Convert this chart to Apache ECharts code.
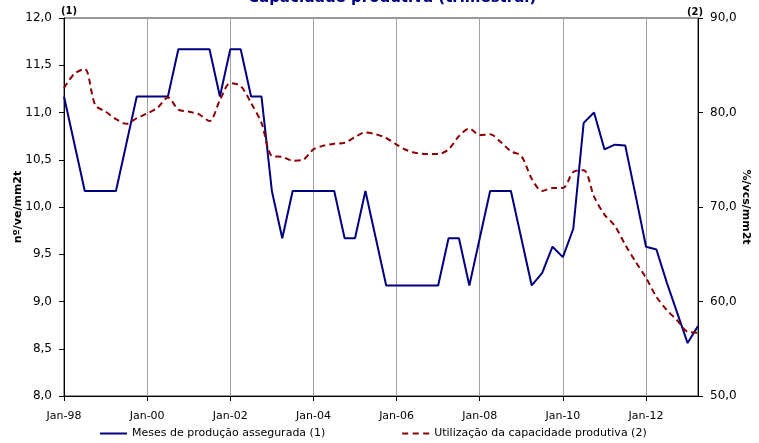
<!DOCTYPE html>
<html>
<head>
<meta charset="utf-8">
<script src="https://cdn.jsdelivr.net/npm/echarts@6/dist/echarts.min.js"></script>
<style>html,body{margin:0;padding:0;background:#fff;}#c{width:759px;height:443px;}</style>
</head>
<body>
<div id="c"></div>
<script>
var categories = [
 'Jan-98','Apr-98','Jul-98','Oct-98','Jan-99','Apr-99','Jul-99','Oct-99',
 'Jan-00','Apr-00','Jul-00','Oct-00','Jan-01','Apr-01','Jul-01','Oct-01',
 'Jan-02','Apr-02','Jul-02','Oct-02','Jan-03','Apr-03','Jul-03','Oct-03',
 'Jan-04','Apr-04','Jul-04','Oct-04','Jan-05','Apr-05','Jul-05','Oct-05',
 'Jan-06','Apr-06','Jul-06','Oct-06','Jan-07','Apr-07','Jul-07','Oct-07',
 'Jan-08','Apr-08','Jul-08','Oct-08','Jan-09','Apr-09','Jul-09','Oct-09',
 'Jan-10','Apr-10','Jul-10','Oct-10','Jan-11','Apr-11','Jul-11','Oct-11',
 'Jan-12','Apr-12','Jul-12','Oct-12','Jan-13','Apr-13'
];
var mesesProducao = [
 11.17,10.67,10.17,10.17,10.17,10.17,10.67,11.17,
 11.17,11.17,11.17,11.67,11.67,11.67,11.67,11.17,
 11.67,11.67,11.17,11.17,10.17,9.67,10.17,10.17,
 10.17,10.17,10.17,9.67,9.67,10.17,9.67,9.17,
 9.17,9.17,9.17,9.17,9.17,9.67,9.67,9.17,
 9.67,10.17,10.17,10.17,9.67,9.17,9.30,9.58,
 9.47,9.77,10.89,11.00,10.61,10.66,10.65,10.12,
 9.58,9.55,9.20,8.88,8.56,8.74
];
var utilizacaoCapacidade = [
 82.6,84.1,84.6,80.8,80.1,79.3,78.8,79.4,
 79.9,80.5,81.6,80.3,80.1,79.8,79.1,81.3,
 83.1,82.8,81.0,78.9,75.4,75.3,74.9,75.0,
 76.1,76.5,76.7,76.8,77.4,77.9,77.7,77.3,
 76.6,76.0,75.7,75.6,75.6,76.1,77.5,78.3,
 77.6,77.7,76.9,75.9,75.4,73.0,71.7,72.0,
 72.0,73.7,73.9,71.1,69.2,68.0,66.0,64.2,
 62.5,60.5,59.1,58.0,56.8,56.7
];
var seriesNames = ['Meses de produção assegurada (1)', 'Utilização da capacidade produtiva (2)'];
var titleText = 'Capacidade produtiva (trimestral)';
var leftAxisName = 'nº/ve/mm2t';
var rightAxisName = '%/vcs/mm2t';

var FONT = 'DejaVu Sans';
function comma(v){ return v.toFixed(1).replace('.', ','); }

var chart = echarts.init(document.getElementById('c'));
chart.setOption({
  animation: false,
  backgroundColor: '#fff',
  textStyle: { fontFamily: FONT },
  title: {
    text: titleText, left: 243, top: -14,
    textStyle: { color: '#000080', fontWeight: 'bold', fontSize: 15, fontFamily: FONT }
  },
  grid: { left: 64, right: 61, top: 18, bottom: 47, show: true, borderColor: '#333', borderWidth: 1,
          outerBoundsMode: 'none', containLabel: false },
  legend: {
    bottom: -1, left: 95, itemGap: 77, itemWidth: 27, itemHeight: 2,
    textStyle: { fontSize: 11, color: '#000', fontFamily: FONT },
    data: [
      { name: seriesNames[0], icon: 'path://M0,0H27V2H0Z', itemStyle: { color: '#000080' } },
      { name: seriesNames[1], icon: 'path://M0,0h6v2h-6z M10.5,0h6v2h-6z M21,0h6v2h-6z', itemStyle: { color: '#8B0000' } }
    ]
  },
  xAxis: {
    type: 'category', data: categories, boundaryGap: false,
    axisLine: { lineStyle: { color: '#000', width: 1 } },
    axisTick: { show: true, interval: 7, length: 5, lineStyle: { color: '#000' } },
    axisLabel: { interval: 7, color: '#000', fontSize: 11, margin: 15, fontFamily: FONT },
    splitLine: { show: true, interval: 7, lineStyle: { color: '#a0a0a0', width: 1 } }
  },
  yAxis: [
    {
      type: 'value', min: 8, max: 12, interval: 0.5, position: 'left',
      axisLine: { show: true, lineStyle: { color: '#000' } },
      axisTick: { show: true, length: 5, lineStyle: { color: '#000' } },
      axisLabel: { formatter: comma, color: '#000', fontSize: 12, margin: 12, fontFamily: FONT },
      splitLine: { show: false }
    },
    {
      type: 'value', min: 50, max: 90, interval: 10, position: 'right',
      axisLine: { show: true, lineStyle: { color: '#000' } },
      axisTick: { show: true, length: 5, lineStyle: { color: '#000' } },
      axisLabel: { formatter: comma, color: '#000', fontSize: 12, margin: 12, fontFamily: FONT },
      splitLine: { show: false }
    }
  ],
  graphic: [
    { type: 'text', left: 61, top: 6, style: { text: '(1)', font: 'bold 10px "DejaVu Sans"', fill: '#000' } },
    { type: 'text', left: 687, top: 7, style: { text: '(2)', font: 'bold 10px "DejaVu Sans"', fill: '#000' } },
    { type: 'text', x: 18, y: 207, rotation: Math.PI / 2,
      style: { text: leftAxisName, font: 'bold 11px "DejaVu Sans"', fill: '#000', textAlign: 'center', textVerticalAlign: 'middle' } },
    { type: 'text', x: 746, y: 207, rotation: -Math.PI / 2,
      style: { text: rightAxisName, font: 'bold 11px "DejaVu Sans"', fill: '#000', textAlign: 'center', textVerticalAlign: 'middle' } }
  ],
  series: [
    {
      name: seriesNames[0], type: 'line', yAxisIndex: 0, data: mesesProducao,
      symbol: 'none', lineStyle: { color: '#000080', width: 2 }, itemStyle: { color: '#000080' }
    },
    {
      name: seriesNames[1], type: 'line', yAxisIndex: 1, data: utilizacaoCapacidade,
      symbol: 'none', smooth: 0.3,
      lineStyle: { color: '#8B0000', width: 2, type: [6, 4] }, itemStyle: { color: '#8B0000' }
    }
  ]
});
</script>
</body>
</html>
